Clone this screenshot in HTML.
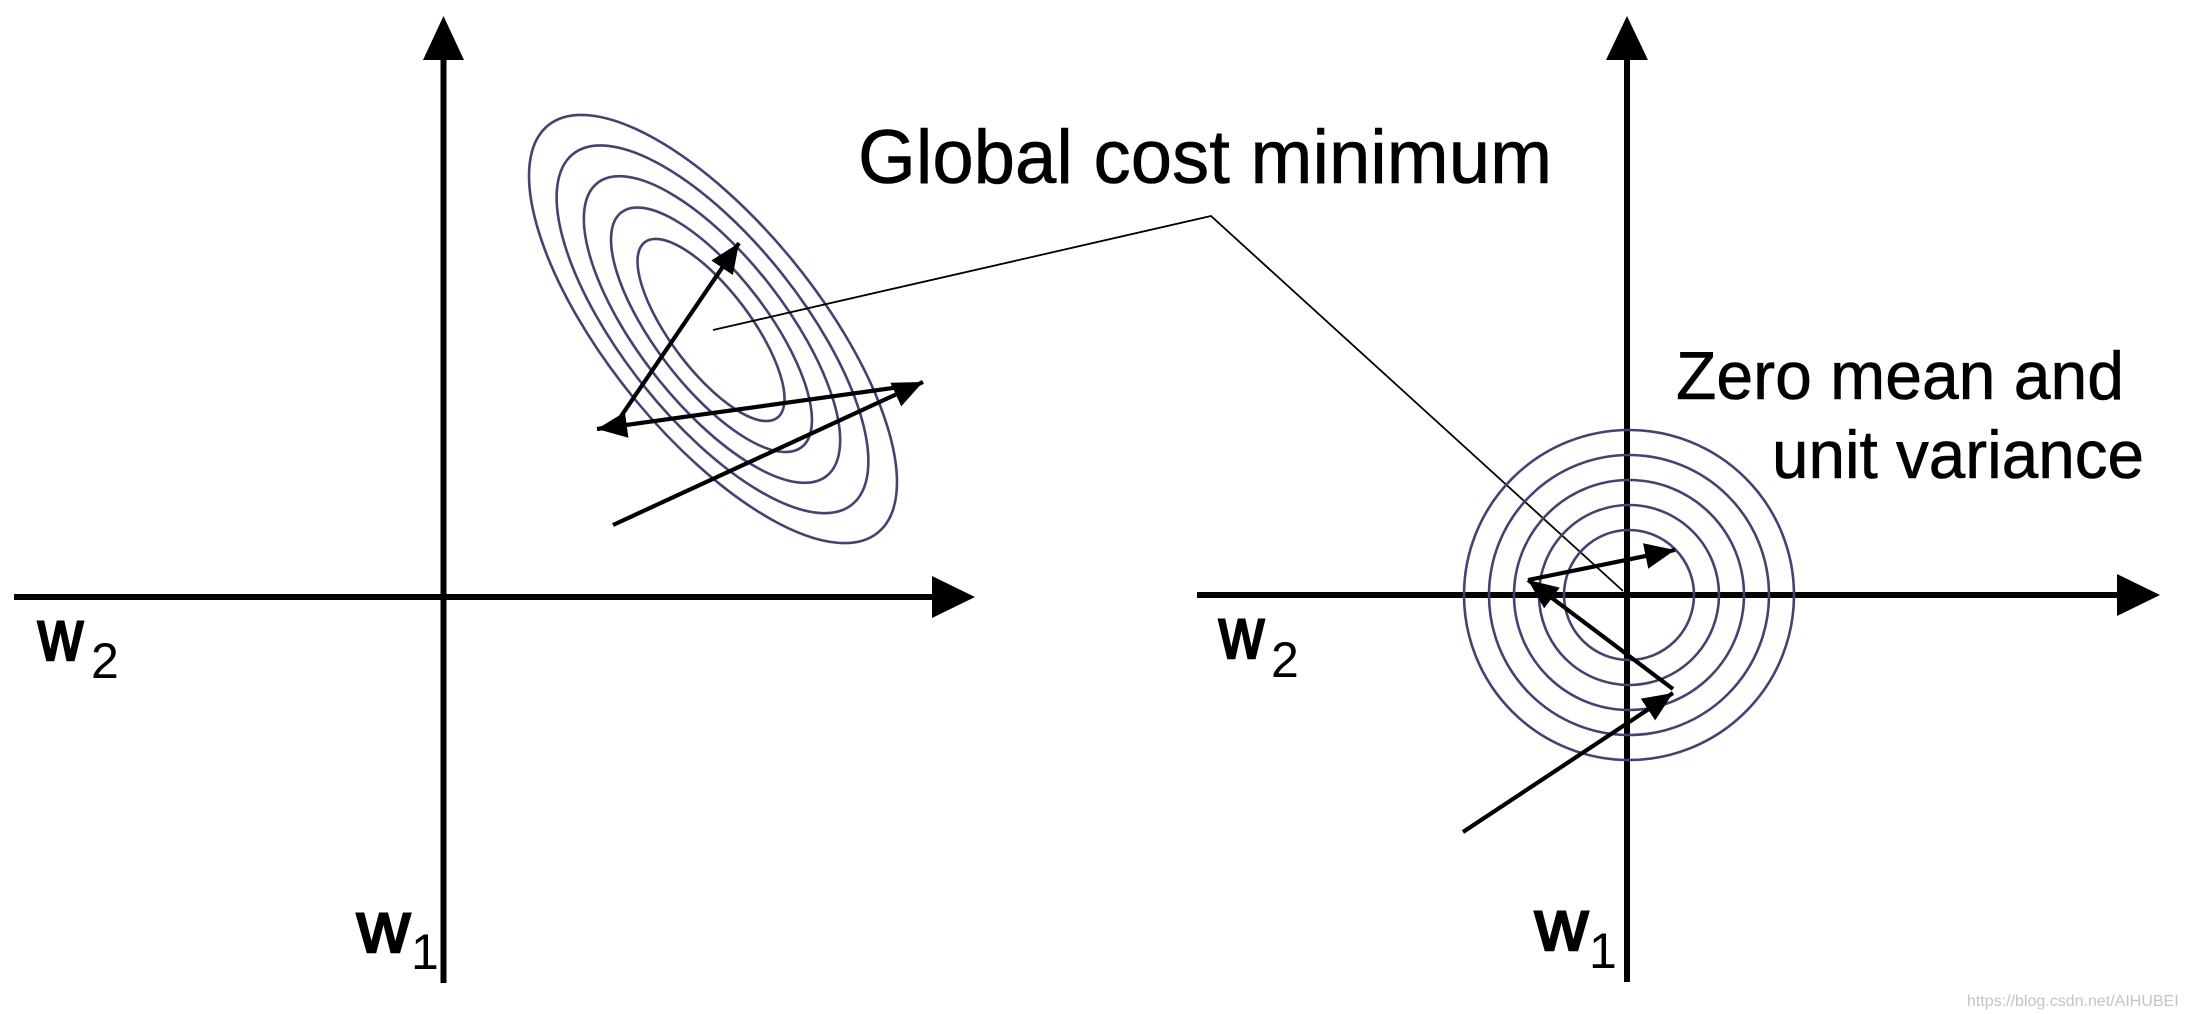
<!DOCTYPE html>
<html><head><meta charset="utf-8"><style>html,body{margin:0;padding:0;background:#fff}svg{display:block}</style></head>
<body>
<svg width="2188" height="1014" viewBox="0 0 2188 1014" xmlns="http://www.w3.org/2000/svg" font-family="Liberation Sans, Arial, sans-serif">
<defs>
<marker id="ah" markerUnits="userSpaceOnUse" markerWidth="34" markerHeight="30" refX="30" refY="13" orient="auto">
<path d="M0,0 L30,13 L0,26 Z" fill="#000"/>
</marker>
</defs>
<rect width="2188" height="1014" fill="#fff"/>
<!-- Left axes -->
<line x1="443.5" y1="983" x2="443.5" y2="55" stroke="#000" stroke-width="6"/>
<polygon points="443.5,16 423,60 464,60" fill="#000"/>
<line x1="14" y1="597" x2="935" y2="597" stroke="#000" stroke-width="6"/>
<polygon points="975,597 932,576 932,618" fill="#000"/>
<!-- Left ellipses -->
<g fill="none" stroke="#4b3f72" stroke-width="2.6">
<ellipse cx="713" cy="329" rx="262" ry="105" transform="rotate(51 713 329)"/>
<ellipse cx="712.5" cy="329.3" rx="224" ry="89" transform="rotate(51.5 712.5 329.3)"/>
<ellipse cx="712" cy="329.5" rx="186" ry="73" transform="rotate(52 712 329.5)"/>
<ellipse cx="711.5" cy="329.8" rx="148" ry="56" transform="rotate(52.5 711.5 329.8)"/>
<ellipse cx="711" cy="330" rx="110" ry="40" transform="rotate(53 711 330)"/>
</g>
<!-- Left arrows -->
<g stroke="#000" stroke-width="4.2" fill="none">
<line x1="613" y1="428" x2="739" y2="243" marker-end="url(#ah)"/>
<line x1="900" y1="387" x2="597" y2="429" marker-end="url(#ah)"/>
<line x1="613" y1="525" x2="923" y2="382" marker-end="url(#ah)"/>
</g>
<!-- Leader line -->
<polyline points="713,330 1211,216 1623,591" fill="none" stroke="#000" stroke-width="1.8"/>
<text x="858" y="183" font-size="76" stroke="#000" stroke-width="0.6" textLength="694" lengthAdjust="spacingAndGlyphs">Global cost minimum</text>
<!-- Right axes -->
<line x1="1627" y1="982" x2="1627" y2="55" stroke="#000" stroke-width="6"/>
<polygon points="1627,16 1606,60 1648,60" fill="#000"/>
<line x1="1197" y1="595" x2="2120" y2="595" stroke="#000" stroke-width="6"/>
<polygon points="2160,595 2117,574 2117,616" fill="#000"/>
<!-- Circles -->
<g fill="none" stroke="#4b3f72" stroke-width="2.6">
<circle cx="1629" cy="595" r="165"/>
<circle cx="1629" cy="595" r="140"/>
<circle cx="1629" cy="595" r="115"/>
<circle cx="1629" cy="595" r="90"/>
<circle cx="1629" cy="595" r="65"/>
</g>
<g stroke="#000" stroke-width="4.2" fill="none">
<line x1="1463" y1="832" x2="1673" y2="693" marker-end="url(#ah)"/>
<line x1="1673" y1="689" x2="1528" y2="580" marker-end="url(#ah)"/>
<line x1="1528" y1="580" x2="1675" y2="550" marker-end="url(#ah)"/>
</g>
<text x="1676" y="399" font-size="68" stroke="#000" stroke-width="0.6" textLength="448" lengthAdjust="spacingAndGlyphs">Zero mean and</text>
<text x="1772" y="478" font-size="68" stroke="#000" stroke-width="0.6" textLength="372" lengthAdjust="spacingAndGlyphs">unit variance</text>
<!-- Axis labels -->
<g font-size="72" stroke="#000" stroke-width="2.5">
<text x="38" y="660" textLength="45" lengthAdjust="spacingAndGlyphs">w</text>
<text x="357" y="952" textLength="53" lengthAdjust="spacingAndGlyphs">w</text>
<text x="1219" y="658" textLength="45" lengthAdjust="spacingAndGlyphs">w</text>
<text x="1535" y="950" textLength="53" lengthAdjust="spacingAndGlyphs">w</text>
</g>
<g font-size="50">
<text x="91" y="678">2</text>
<text x="411" y="969">1</text>
<text x="1271" y="677">2</text>
<text x="1589" y="968">1</text>
</g>
<text x="1967" y="1006" font-size="16" fill="#c4c4c4">https://blog.csdn.net/AIHUBEI</text>
</svg>
</body></html>
